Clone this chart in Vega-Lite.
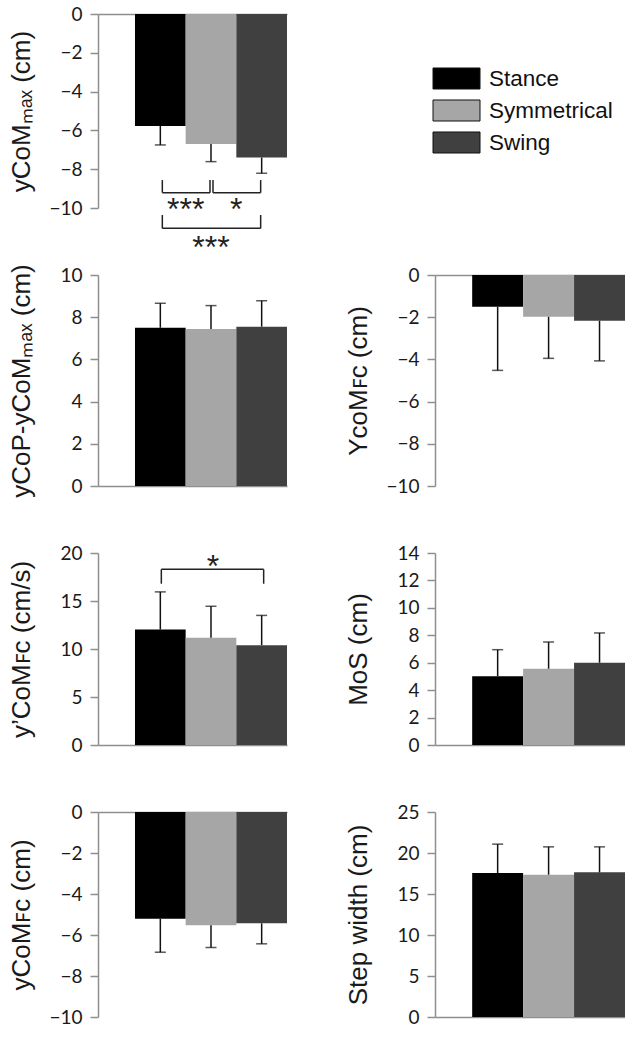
{
  "$schema": "https://vega.github.io/schema/vega-lite/v6.json",
  "background": "white",
  "autosize": {"type": "pad"},
  "padding": {"left": 7, "top": 5, "right": 0, "bottom": 0},
  "bounds": "flush",
  "columns": 2,
  "spacing": {"row": 67, "column": 148},
  "resolve": {"legend": {"color": "independent"}},
  "datasets": {
    "p1": [{"cond": "Stance", "mean": -5.77, "errEnd": -6.75}, {"cond": "Symmetrical", "mean": -6.7, "errEnd": -7.61}, {"cond": "Swing", "mean": -7.4, "errEnd": -8.21}],
    "p2": [{"cond": "Stance", "mean": 7.5, "errEnd": 8.66}, {"cond": "Symmetrical", "mean": 7.44, "errEnd": 8.55}, {"cond": "Swing", "mean": 7.55, "errEnd": 8.78}],
    "p3": [{"cond": "Stance", "mean": -1.5, "errEnd": -4.52}, {"cond": "Symmetrical", "mean": -1.98, "errEnd": -3.95}, {"cond": "Swing", "mean": -2.17, "errEnd": -4.07}],
    "p4": [{"cond": "Stance", "mean": 12.03, "errEnd": 15.95}, {"cond": "Symmetrical", "mean": 11.16, "errEnd": 14.45}, {"cond": "Swing", "mean": 10.4, "errEnd": 13.5}],
    "p5": [{"cond": "Stance", "mean": 5.01, "errEnd": 6.95}, {"cond": "Symmetrical", "mean": 5.56, "errEnd": 7.51}, {"cond": "Swing", "mean": 6.0, "errEnd": 8.17}],
    "p6": [{"cond": "Stance", "mean": -5.21, "errEnd": -6.84}, {"cond": "Symmetrical", "mean": -5.53, "errEnd": -6.61}, {"cond": "Swing", "mean": -5.43, "errEnd": -6.43}],
    "p7": [{"cond": "Stance", "mean": 17.55, "errEnd": 21.08}, {"cond": "Symmetrical", "mean": 17.35, "errEnd": 20.75}, {"cond": "Swing", "mean": 17.64, "errEnd": 20.75}],
    "b1": [
      {"from": "Stance", "to": "Symmetrical", "yBar": -9.21, "yTop": -8.56, "label": "***", "labelY": -10.6, "labelAt": "Stance", "labelPos": "edge"},
      {"from": "Symmetrical", "to": "Swing", "yBar": -9.21, "yTop": -8.56, "label": "*", "labelY": -10.6, "labelAt": "Symmetrical", "labelPos": "edge"},
      {"from": "Stance", "to": "Swing", "yBar": -11.05, "yTop": -10.36, "label": "***", "labelY": -12.6, "labelAt": "Symmetrical", "labelPos": "center"}
    ],
    "b4": [
      {"from": "Stance", "to": "Swing", "yBar": 18.3, "yTop": 16.8, "label": "*", "labelY": 17.54, "labelAt": "Symmetrical", "labelPos": "center"}
    ]
  },
  "concat": [
    {
      "width": 189, "height": 194,
      "data": {"name": "p1"},
      "layer": [
        {"mark": {"type": "bar"},
         "encoding": {
           "x": {"field": "cond", "type": "nominal", "scale": {"domain": ["Stance", "Symmetrical", "Swing"], "paddingInner": 0, "paddingOuter": 0.365, "align": 1}, "axis": {"orient": "top", "labels": false, "ticks": false, "title": null}},
           "y": {"field": "mean", "type": "quantitative", "scale": {"domain": [-10, 0], "nice": false}, "axis": {"values": [-10, -8, -6, -4, -2, 0], "format": "d", "tickCount": 20, "labelOverlap": false, "title": "yCoMₘₐₓ (cm)", "titleX": -64}},
           "color": {"field": "cond", "type": "nominal", "scale": {"domain": ["Stance", "Symmetrical", "Swing"], "range": ["#000000", "#a6a6a6", "#404040"]}, "legend": null}}},
        {"mark": {"type": "rule", "color": "#111", "strokeWidth": 1.5},
         "encoding": {"x": {"field": "cond", "type": "nominal"}, "y": {"field": "mean", "type": "quantitative"}, "y2": {"field": "errEnd"}}},
        {"mark": {"type": "tick", "color": "#111", "thickness": 1.5, "size": 11},
         "encoding": {"x": {"field": "cond", "type": "nominal"}, "y": {"field": "errEnd", "type": "quantitative"}}},
        {"data": {"name": "b1"}, "mark": {"type": "rule", "color": "#222", "strokeWidth": 1.5, "xOffset": 2, "x2Offset": -1},
         "encoding": {"x": {"field": "from", "type": "nominal"}, "x2": {"field": "to"}, "y": {"field": "yBar", "type": "quantitative"}}},
        {"data": {"name": "b1"}, "mark": {"type": "rule", "color": "#222", "strokeWidth": 1.5, "xOffset": 2},
         "encoding": {"x": {"field": "from", "type": "nominal"}, "y": {"field": "yTop", "type": "quantitative"}, "y2": {"field": "yBar"}}},
        {"data": {"name": "b1"}, "mark": {"type": "rule", "color": "#222", "strokeWidth": 1.5, "xOffset": -1},
         "encoding": {"x": {"field": "to", "type": "nominal"}, "y": {"field": "yTop", "type": "quantitative"}, "y2": {"field": "yBar"}}},
        {"data": {"name": "b1"}, "transform": [{"filter": "datum.labelPos == 'edge'"}],
         "mark": {"type": "text", "font": "Liberation Sans", "fontSize": 32, "baseline": "alphabetic", "align": "center", "color": "#222"},
         "encoding": {"x": {"field": "labelAt", "type": "nominal", "bandPosition": 1}, "y": {"field": "labelY", "type": "quantitative"}, "text": {"field": "label"}}},
        {"data": {"name": "b1"}, "transform": [{"filter": "datum.labelPos == 'center'"}],
         "mark": {"type": "text", "font": "Liberation Sans", "fontSize": 32, "baseline": "alphabetic", "align": "center", "color": "#222"},
         "encoding": {"x": {"field": "labelAt", "type": "nominal"}, "y": {"field": "labelY", "type": "quantitative"}, "text": {"field": "label"}}}
      ]
    },
    {
      "width": 190, "height": 194,
      "data": {"name": "p1"},
      "mark": {"type": "text", "text": ""},
      "encoding": {
        "color": {"field": "cond", "type": "nominal", "scale": {"domain": ["Stance", "Symmetrical", "Swing"], "range": ["#000000", "#a6a6a6", "#404040"]},
          "legend": {"title": null, "orient": "none", "legendX": 9, "legendY": 52}}
      }
    },
    {
      "width": 189, "height": 211,
      "data": {"name": "p2"},
      "layer": [
        {"mark": {"type": "bar"},
         "encoding": {
           "x": {"field": "cond", "type": "nominal", "scale": {"domain": ["Stance", "Symmetrical", "Swing"], "paddingInner": 0, "paddingOuter": 0.365, "align": 1}, "axis": {"orient": "bottom", "labels": false, "ticks": false, "title": null}},
           "y": {"field": "mean", "type": "quantitative", "scale": {"domain": [0, 10], "nice": false}, "axis": {"values": [0, 2, 4, 6, 8, 10], "format": "d", "tickCount": 20, "labelOverlap": false, "title": "yCoP-yCoMₘₐₓ (cm)", "titleX": -64}},
           "color": {"field": "cond", "type": "nominal", "scale": {"domain": ["Stance", "Symmetrical", "Swing"], "range": ["#000000", "#a6a6a6", "#404040"]}, "legend": null}}},
        {"mark": {"type": "rule", "color": "#111", "strokeWidth": 1.5},
         "encoding": {"x": {"field": "cond", "type": "nominal"}, "y": {"field": "mean", "type": "quantitative"}, "y2": {"field": "errEnd"}}},
        {"mark": {"type": "tick", "color": "#111", "thickness": 1.5, "size": 11},
         "encoding": {"x": {"field": "cond", "type": "nominal"}, "y": {"field": "errEnd", "type": "quantitative"}}}
      ]
    },
    {
      "width": 190, "height": 211,
      "data": {"name": "p3"},
      "layer": [
        {"mark": {"type": "bar"},
         "encoding": {
           "x": {"field": "cond", "type": "nominal", "scale": {"domain": ["Stance", "Symmetrical", "Swing"], "paddingInner": 0, "paddingOuter": 0.365, "align": 1}, "axis": {"orient": "top", "labels": false, "ticks": false, "title": null}},
           "y": {"field": "mean", "type": "quantitative", "scale": {"domain": [-10, 0], "nice": false}, "axis": {"values": [-10, -8, -6, -4, -2, 0], "format": "d", "tickCount": 20, "labelOverlap": false, "title": "YcoMꜰᴄ (cm)", "titleX": -64}},
           "color": {"field": "cond", "type": "nominal", "scale": {"domain": ["Stance", "Symmetrical", "Swing"], "range": ["#000000", "#a6a6a6", "#404040"]}, "legend": null}}},
        {"mark": {"type": "rule", "color": "#111", "strokeWidth": 1.5},
         "encoding": {"x": {"field": "cond", "type": "nominal"}, "y": {"field": "mean", "type": "quantitative"}, "y2": {"field": "errEnd"}}},
        {"mark": {"type": "tick", "color": "#111", "thickness": 1.5, "size": 11},
         "encoding": {"x": {"field": "cond", "type": "nominal"}, "y": {"field": "errEnd", "type": "quantitative"}}}
      ]
    },
    {
      "width": 189, "height": 192,
      "data": {"name": "p4"},
      "layer": [
        {"mark": {"type": "bar"},
         "encoding": {
           "x": {"field": "cond", "type": "nominal", "scale": {"domain": ["Stance", "Symmetrical", "Swing"], "paddingInner": 0, "paddingOuter": 0.365, "align": 1}, "axis": {"orient": "bottom", "labels": false, "ticks": false, "title": null}},
           "y": {"field": "mean", "type": "quantitative", "scale": {"domain": [0, 20], "nice": false}, "axis": {"values": [0, 5, 10, 15, 20], "format": "d", "tickCount": 20, "labelOverlap": false, "title": "y’CoMꜰᴄ (cm/s)", "titleX": -64}},
           "color": {"field": "cond", "type": "nominal", "scale": {"domain": ["Stance", "Symmetrical", "Swing"], "range": ["#000000", "#a6a6a6", "#404040"]}, "legend": null}}},
        {"mark": {"type": "rule", "color": "#111", "strokeWidth": 1.5},
         "encoding": {"x": {"field": "cond", "type": "nominal"}, "y": {"field": "mean", "type": "quantitative"}, "y2": {"field": "errEnd"}}},
        {"mark": {"type": "tick", "color": "#111", "thickness": 1.5, "size": 11},
         "encoding": {"x": {"field": "cond", "type": "nominal"}, "y": {"field": "errEnd", "type": "quantitative"}}},
        {"data": {"name": "b4"}, "mark": {"type": "rule", "color": "#222", "strokeWidth": 1.5, "xOffset": 1, "x2Offset": 2},
         "encoding": {"x": {"field": "from", "type": "nominal"}, "x2": {"field": "to"}, "y": {"field": "yBar", "type": "quantitative"}}},
        {"data": {"name": "b4"}, "mark": {"type": "rule", "color": "#222", "strokeWidth": 1.5, "xOffset": 1},
         "encoding": {"x": {"field": "from", "type": "nominal"}, "y": {"field": "yTop", "type": "quantitative"}, "y2": {"field": "yBar"}}},
        {"data": {"name": "b4"}, "mark": {"type": "rule", "color": "#222", "strokeWidth": 1.5, "xOffset": 2},
         "encoding": {"x": {"field": "to", "type": "nominal"}, "y": {"field": "yTop", "type": "quantitative"}, "y2": {"field": "yBar"}}},
        {"data": {"name": "b4"},
         "mark": {"type": "text", "font": "Liberation Sans", "fontSize": 32, "baseline": "alphabetic", "align": "center", "color": "#222", "dx": 2},
         "encoding": {"x": {"field": "labelAt", "type": "nominal"}, "y": {"field": "labelY", "type": "quantitative"}, "text": {"field": "label"}}}
      ]
    },
    {
      "width": 190, "height": 192,
      "data": {"name": "p5"},
      "layer": [
        {"mark": {"type": "bar"},
         "encoding": {
           "x": {"field": "cond", "type": "nominal", "scale": {"domain": ["Stance", "Symmetrical", "Swing"], "paddingInner": 0, "paddingOuter": 0.365, "align": 1}, "axis": {"orient": "bottom", "labels": false, "ticks": false, "title": null}},
           "y": {"field": "mean", "type": "quantitative", "scale": {"domain": [0, 14], "nice": false}, "axis": {"values": [0, 2, 4, 6, 8, 10, 12, 14], "format": "d", "tickCount": 20, "labelOverlap": false, "title": "MoS (cm)", "titleX": -64}},
           "color": {"field": "cond", "type": "nominal", "scale": {"domain": ["Stance", "Symmetrical", "Swing"], "range": ["#000000", "#a6a6a6", "#404040"]}, "legend": null}}},
        {"mark": {"type": "rule", "color": "#111", "strokeWidth": 1.5},
         "encoding": {"x": {"field": "cond", "type": "nominal"}, "y": {"field": "mean", "type": "quantitative"}, "y2": {"field": "errEnd"}}},
        {"mark": {"type": "tick", "color": "#111", "thickness": 1.5, "size": 11},
         "encoding": {"x": {"field": "cond", "type": "nominal"}, "y": {"field": "errEnd", "type": "quantitative"}}}
      ]
    },
    {
      "width": 189, "height": 205,
      "data": {"name": "p6"},
      "layer": [
        {"mark": {"type": "bar"},
         "encoding": {
           "x": {"field": "cond", "type": "nominal", "scale": {"domain": ["Stance", "Symmetrical", "Swing"], "paddingInner": 0, "paddingOuter": 0.365, "align": 1}, "axis": {"orient": "top", "labels": false, "ticks": false, "title": null}},
           "y": {"field": "mean", "type": "quantitative", "scale": {"domain": [-10, 0], "nice": false}, "axis": {"values": [-10, -8, -6, -4, -2, 0], "format": "d", "tickCount": 20, "labelOverlap": false, "title": "yCoMꜰᴄ (cm)", "titleX": -64}},
           "color": {"field": "cond", "type": "nominal", "scale": {"domain": ["Stance", "Symmetrical", "Swing"], "range": ["#000000", "#a6a6a6", "#404040"]}, "legend": null}}},
        {"mark": {"type": "rule", "color": "#111", "strokeWidth": 1.5},
         "encoding": {"x": {"field": "cond", "type": "nominal"}, "y": {"field": "mean", "type": "quantitative"}, "y2": {"field": "errEnd"}}},
        {"mark": {"type": "tick", "color": "#111", "thickness": 1.5, "size": 11},
         "encoding": {"x": {"field": "cond", "type": "nominal"}, "y": {"field": "errEnd", "type": "quantitative"}}}
      ]
    },
    {
      "width": 190, "height": 205,
      "data": {"name": "p7"},
      "layer": [
        {"mark": {"type": "bar"},
         "encoding": {
           "x": {"field": "cond", "type": "nominal", "scale": {"domain": ["Stance", "Symmetrical", "Swing"], "paddingInner": 0, "paddingOuter": 0.365, "align": 1}, "axis": {"orient": "bottom", "labels": false, "ticks": false, "title": null}},
           "y": {"field": "mean", "type": "quantitative", "scale": {"domain": [0, 25], "nice": false}, "axis": {"values": [0, 5, 10, 15, 20, 25], "format": "d", "tickCount": 20, "labelOverlap": false, "title": "Step width (cm)", "titleX": -64}},
           "color": {"field": "cond", "type": "nominal", "scale": {"domain": ["Stance", "Symmetrical", "Swing"], "range": ["#000000", "#a6a6a6", "#404040"]}, "legend": null}}},
        {"mark": {"type": "rule", "color": "#111", "strokeWidth": 1.5},
         "encoding": {"x": {"field": "cond", "type": "nominal"}, "y": {"field": "mean", "type": "quantitative"}, "y2": {"field": "errEnd"}}},
        {"mark": {"type": "tick", "color": "#111", "thickness": 1.5, "size": 11},
         "encoding": {"x": {"field": "cond", "type": "nominal"}, "y": {"field": "errEnd", "type": "quantitative"}}}
      ]
    }
  ],
  "config": {
    "view": {"stroke": null},
    "axis": {
      "grid": false, "labelOverlap": false,
      "domainColor": "#8f8f8f", "domainWidth": 1.5,
      "tickColor": "#8f8f8f", "tickWidth": 1.5, "tickSize": 8,
      "labelFont": "Lato", "labelFontSize": 19, "labelColor": "#1a1a1a", "labelPadding": 8,
      "titleFont": "Liberation Sans", "titleFontSize": 26, "titleFontWeight": "normal", "titleColor": "#1a1a1a"
    },
    "legend": {
      "symbolType": "M-2,-0.894H2V0.894H-2Z", "symbolSize": 552.25,
      "symbolStrokeColor": "#111", "symbolStrokeWidth": 1, "symbolOpacity": 1,
      "labelFont": "Liberation Sans", "labelFontSize": 22.5, "labelColor": "#111", "labelOffset": 20,
      "rowPadding": 5, "padding": 0
    }
  }
}
